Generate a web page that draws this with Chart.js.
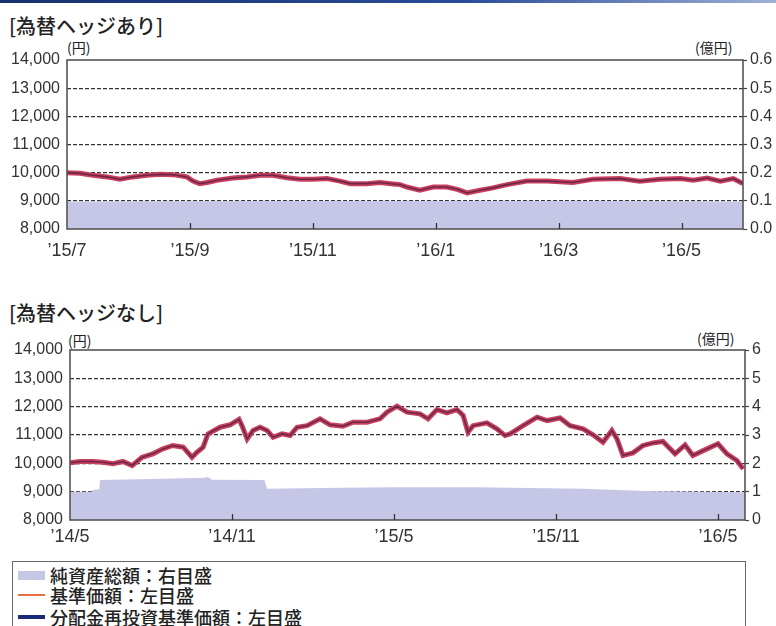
<!DOCTYPE html>
<html lang="ja">
<head>
<meta charset="utf-8">
<script src="https://cdn.jsdelivr.net/npm/chart.js@4"></script>
<style>
  html, body { margin: 0; padding: 0; background: #fff; }
  body { width: 776px; height: 626px; position: relative; overflow: hidden; font-family: 'Noto Sans CJK JP', sans-serif; color: #222; }
  .bar { position: absolute; left: 0; top: 0; width: 776px; height: 3px; background: linear-gradient(to right, #17306f, #2a4c98 60%, #9fb0d6); }
  .title { position: absolute; left: 9px; font-size: 20px; line-height: 20px; white-space: nowrap; font-weight: 500; }
  .unit { position: absolute; font-size: 14px; line-height: 14px; white-space: nowrap; }
  canvas { position: absolute; left: 0; }
  .legend { position: absolute; left: 12px; top: 561px; width: 732px; height: 90px; border: 1.5px solid #666; }
  .row { position: absolute; left: 5px; height: 20px; display: flex; align-items: center; font-size: 18px; line-height: 20px; white-space: nowrap; font-weight: 500; }
  .sw { width: 27px; margin-right: 5px; }
</style>
</head>
<body>
<div class="bar"></div>

<div class="title" style="top:16px">[為替ヘッジあり]</div>
<div class="unit" style="left:67px;top:40px">(円)</div>
<div class="unit" style="left:695px;top:40px">(億円)</div>
<canvas id="chart-hedged" width="776" height="225" style="top:40px"></canvas>

<div class="title" style="top:303px">[為替ヘッジなし]</div>
<div class="unit" style="left:68px;top:333px">(円)</div>
<div class="unit" style="left:697px;top:331px">(億円)</div>
<canvas id="chart-unhedged" width="776" height="226" style="top:330px"></canvas>

<div class="legend">
  <div class="row" style="top:3px"><span class="sw" style="height:9px;background:#c6c7e7"></span>純資産総額：右目盛</div>
  <div class="row" style="top:23px"><span class="sw" style="height:2px;background:#e8703a"></span>基準価額：左目盛</div>
  <div class="row" style="top:45px"><span class="sw" style="height:4px;background:#1c2a7a"></span>分配金再投資基準価額：左目盛</div>
</div>

<script>
// [為替ヘッジあり] x = months since '15/7
const hedgedMonths = [0, 0.21, 0.42, 0.65, 0.86, 1.07, 1.30, 1.51, 1.72, 1.95, 2.05, 2.16, 2.28, 2.44, 2.70, 2.93, 3.14, 3.35, 3.58, 3.79, 4.0, 4.23, 4.44, 4.61, 4.88, 5.09, 5.31, 5.42, 5.53, 5.74, 5.96, 6.18, 6.35, 6.51, 6.72, 6.93, 7.16, 7.48, 7.81, 8.23, 8.56, 9.0, 9.32, 9.65, 9.98, 10.19, 10.42, 10.63, 10.84, 11.0];
const hedgedNav = [10000, 9976, 9906, 9850, 9765, 9850, 9906, 9940, 9930, 9850, 9700, 9610, 9650, 9730, 9810, 9850, 9906, 9906, 9820, 9765, 9765, 9790, 9700, 9610, 9610, 9650, 9600, 9576, 9490, 9376, 9490, 9490, 9410, 9280, 9376, 9460, 9576, 9700, 9700, 9650, 9765, 9790, 9700, 9765, 9790, 9730, 9810, 9700, 9790, 9610];
const hedgedAssetMonths = [0, 3, 6, 9, 11];
const hedgedAssets = [0.098, 0.099, 0.099, 0.099, 0.098];
const hedgedTickMonths = [0, 2, 4, 6, 8, 10];
const hedgedTickLabels = ['’15/7', '’15/9', '’15/11', '’16/1', '’16/3', '’16/5'];

// [為替ヘッジなし] x = months since '14/5
const unhedgedMonths = [0, 0.37, 0.85, 1.22, 1.59, 1.96, 2.30, 2.67, 3.07, 3.44, 3.81, 4.19, 4.52, 4.70, 4.93, 5.11, 5.56, 5.93, 6.26, 6.37, 6.56, 6.78, 7.04, 7.30, 7.52, 7.85, 8.15, 8.41, 8.78, 9.26, 9.63, 10.11, 10.48, 11.0, 11.48, 11.74, 12.11, 12.48, 12.96, 13.26, 13.59, 13.96, 14.33, 14.56, 14.74, 14.93, 15.44, 15.81, 16.11, 16.30, 16.78, 17.30, 17.67, 18.15, 18.52, 19.0, 19.37, 19.74, 20.07, 20.26, 20.48, 20.85, 21.22, 21.59, 21.96, 22.41, 22.78, 23.07, 23.59, 24.0, 24.33, 24.70, 24.93];
const unhedgedNav = [10020, 10065, 10065, 10040, 9985, 10065, 9920, 10215, 10335, 10510, 10630, 10570, 10215, 10390, 10570, 11040, 11275, 11360, 11550, 11330, 10860, 11160, 11275, 11160, 10920, 11040, 10980, 11275, 11330, 11570, 11360, 11310, 11450, 11450, 11570, 11805, 12020, 11805, 11745, 11570, 11900, 11785, 11900, 11690, 11100, 11330, 11430, 11215, 10980, 11040, 11330, 11630, 11510, 11600, 11330, 11215, 11005, 10745, 11160, 10860, 10275, 10370, 10630, 10720, 10770, 10335, 10650, 10275, 10510, 10690, 10335, 10100, 9805];
const unhedgedAssetMonths = [0, 0.8, 0.85, 1.08, 1.12, 3.0, 5.0, 5.1, 5.25, 7.2, 7.3, 10, 12, 15, 19, 21.3, 25];
const unhedgedAssets = [1.0, 1.0, 1.07, 1.08, 1.41, 1.45, 1.49, 1.53, 1.42, 1.41, 1.1, 1.14, 1.16, 1.16, 1.1, 1.02, 0.98];
const unhedgedTickMonths = [0, 6, 12, 18, 24];
const unhedgedTickLabels = ['’14/5', '’14/11', '’15/5', '’15/11', '’16/5'];

const TICK_FONT = { family: "'Liberation Sans', Arial, sans-serif", size: 16 };
const X_FONT = { family: "'Liberation Sans', Arial, sans-serif", size: 18 };

const pts = (xs, ys) => xs.map((x, i) => ({ x, y: ys[i] }));

const framePlugin = {
  id: 'frame',
  afterDatasetsDraw(chart) {
    const { ctx, chartArea: a, scales: { x } } = chart;
    ctx.save();
    ctx.strokeStyle = '#555';
    ctx.lineWidth = 1.6;
    ctx.strokeRect(a.left, a.top, a.right - a.left, a.bottom - a.top);
    ctx.lineWidth = 1.3;
    ctx.strokeStyle = '#333';
    x.ticks.forEach(t => {
      const px = Math.round(x.getPixelForValue(t.value)) + 0.5;
      if (px <= a.left + 1) return;
      ctx.beginPath();
      ctx.moveTo(px, a.bottom);
      ctx.lineTo(px, a.bottom - 6);
      ctx.stroke();
    });
    ctx.restore();
  },
};

function makeChart(id, o) {
  return new Chart(document.getElementById(id), {
    type: 'line',
    data: {
      datasets: [
        { data: pts(o.months, o.nav), yAxisID: 'y', borderColor: 'rgba(80,30,70,0.75)', borderWidth: 1.6, pointRadius: 0, tension: 0, order: 0 },
        { data: pts(o.months, o.nav), yAxisID: 'y', borderColor: '#c8405c', borderWidth: 5, pointRadius: 0, tension: 0, order: 1 },
        { data: pts(o.assetMonths, o.assets), yAxisID: 'y1', borderWidth: 0, backgroundColor: '#c6c7e7', fill: 'start', pointRadius: 0, tension: 0, order: 2 },
      ],
    },
    options: {
      responsive: false,
      animation: false,
      layout: { padding: { top: 20, left: 0, right: 0, bottom: 0 } },
      plugins: { legend: { display: false }, tooltip: { enabled: false } },
      scales: {
        x: {
          type: 'linear', min: 0, max: o.maxMonth,
          afterFit: s => { s.height = 36; },
          afterBuildTicks: s => { s.ticks = o.tickMonths.map(v => ({ value: v })); },
          grid: { display: false },
          border: { display: false },
          ticks: { font: X_FONT, color: '#333', padding: o.xPad, maxRotation: 0, autoSkip: false,
                   callback: (v, i) => o.tickLabels[i] },
        },
        y: {
          position: 'left', min: 8000, max: 14000,
          afterFit: s => { s.width = o.leftW; },
          grid: { drawTicks: false, lineWidth: 1.2, borderDash: [4, 2],
                  color: c => (c.tick.value === 8000 || c.tick.value === 14000) ? 'rgba(0,0,0,0)' : '#333' },
          border: { display: false, dash: [4, 2] },
          ticks: { stepSize: 1000, font: TICK_FONT, color: '#333', padding: 7,
                   callback: v => v.toLocaleString('en-US') },
        },
        y1: {
          position: 'right', min: 0, max: o.rightMax,
          afterFit: s => { s.width = o.rightW; },
          grid: { drawOnChartArea: false, drawTicks: true, tickLength: 4, tickColor: '#444', tickWidth: 1.2,
                  color: '#444' },
          border: { display: false },
          ticks: { stepSize: o.rightStep, font: TICK_FONT, color: '#333', padding: 3,
                   callback: v => o.rightStep < 1 ? v.toFixed(1) : String(v) },
        },
      },
    },
    plugins: [framePlugin],
  });
}

makeChart('chart-hedged', {
  months: hedgedMonths, nav: hedgedNav,
  assetMonths: hedgedAssetMonths, assets: hedgedAssets,
  tickMonths: hedgedTickMonths, tickLabels: hedgedTickLabels,
  maxMonth: 11, rightMax: 0.6, rightStep: 0.1,
  leftW: 67, rightW: 33, xPad: 3,
});

makeChart('chart-unhedged', {
  months: unhedgedMonths, nav: unhedgedNav,
  assetMonths: unhedgedAssetMonths, assets: unhedgedAssets,
  tickMonths: unhedgedTickMonths, tickLabels: unhedgedTickLabels,
  maxMonth: 25, rightMax: 6, rightStep: 1,
  leftW: 70, rightW: 31, xPad: -2,
});
</script>
</body>
</html>
